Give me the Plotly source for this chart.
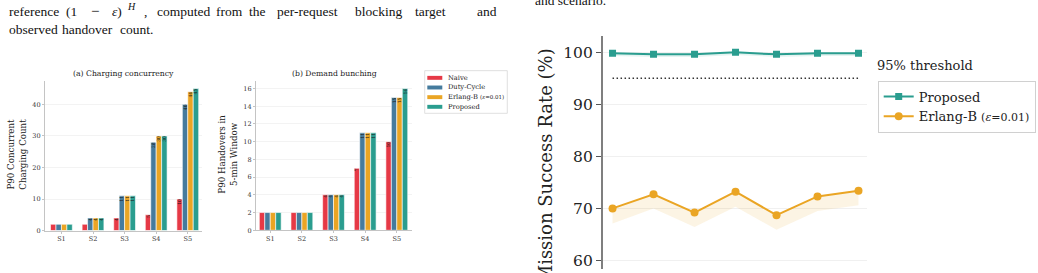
import plotly.graph_objects as go

W, H = 1038, 273

# ---------------- data ----------------
SCENARIOS = ["S1", "S2", "S3", "S4", "S5"]
METHODS = ["Naive", "Duty-Cycle", "Erlang-B", "Proposed"]
METHOD_LABELS = ["Naive", "Duty-Cycle",
                 "Erlang-B <span style='font-size:5.5px'>(<i>ε</i>=0.01)</span>", "Proposed"]
COLORS = ["#E63946", "#457B9D", "#EAA524", "#2A9D8F"]

CONC_NAIVE = [2, 2, 4, 5, 10]
CONC_DUTY = [2, 4, 11, 28, 40]
CONC_ERLANG = [2, 4, 11, 30, 44]
CONC_PROP = [2, 4, 11, 30, 45]

HAND_NAIVE = [2, 2, 4, 7, 10]
HAND_DUTY = [2, 2, 4, 11, 15]
HAND_ERLANG = [2, 2, 4, 11, 15]
HAND_PROP = [2, 2, 4, 11, 16]

RUNS = [0, 1, 2, 3, 4, 5, 6]
PROP_RATE = [99.8, 99.6, 99.6, 100.0, 99.6, 99.8, 99.8]
PROP_LOW = [99.3, 99.1, 99.1, 99.5, 99.1, 99.3, 99.3]
ERL_RATE = [70.0, 72.7, 69.2, 73.2, 68.7, 72.3, 73.4]
ERL_LOW = [67.1, 70.0, 66.4, 70.3, 65.9, 69.5, 70.6]
THRESHOLD = 95

SERIF = "DejaVu Serif"
TIMES = "Liberation Serif"


def px(x):
    return x / W


def py(y):
    return 1 - y / H


fig = go.Figure()

# ---------------- bar charts ----------------
conc = [CONC_NAIVE, CONC_DUTY, CONC_ERLANG, CONC_PROP]
hand = [HAND_NAIVE, HAND_DUTY, HAND_ERLANG, HAND_PROP]
for data, xa, ya in [(conc, "x", "y"), (hand, "x2", "y2")]:
    for name, vals, col in zip(METHODS, data, COLORS):
        fig.add_trace(go.Bar(
            x=SCENARIOS, y=vals, name=name, xaxis=xa, yaxis=ya,
            marker=dict(color=col, line=dict(color="white", width=0.6)),
            text=[str(v) if v >= 3 else " " for v in vals],
            textposition="inside", insidetextanchor="end", textangle=-90,
            constraintext="none",
            textfont=dict(size=4.5, color="#1a1a1a", family=SERIF),
            showlegend=False, offsetgroup=name, legendgroup=name,
        ))

# ---------------- line chart ----------------
fig.add_trace(go.Scatter(x=RUNS, y=ERL_LOW, xaxis="x3", yaxis="y3", mode="lines",
                         line=dict(width=0, color=COLORS[2]), showlegend=False, hoverinfo="skip"))
fig.add_trace(go.Scatter(x=RUNS, y=ERL_RATE, xaxis="x3", yaxis="y3", mode="lines",
                         line=dict(width=0, color=COLORS[2]), fill="tonexty",
                         fillcolor="rgba(234,165,36,0.12)", showlegend=False, hoverinfo="skip"))
fig.add_trace(go.Scatter(x=RUNS, y=PROP_LOW, xaxis="x3", yaxis="y3", mode="lines",
                         line=dict(width=0, color=COLORS[3]), showlegend=False, hoverinfo="skip"))
fig.add_trace(go.Scatter(x=RUNS, y=PROP_RATE, xaxis="x3", yaxis="y3", mode="lines",
                         line=dict(width=0, color=COLORS[3]), fill="tonexty",
                         fillcolor="rgba(42,157,143,0.12)", showlegend=False, hoverinfo="skip"))
fig.add_trace(go.Scatter(x=[RUNS[0], RUNS[-1]], y=[THRESHOLD, THRESHOLD], xaxis="x3", yaxis="y3",
                         mode="lines", line=dict(color="#333333", width=1.5, dash="1.5px,2.5px"),
                         showlegend=False, hoverinfo="skip"))
fig.add_trace(go.Scatter(x=RUNS, y=PROP_RATE, xaxis="x3", yaxis="y3", mode="lines+markers",
                         name="Proposed", legend="legend2",
                         line=dict(color=COLORS[3], width=2),
                         marker=dict(symbol="square", size=7, color=COLORS[3])))
fig.add_trace(go.Scatter(x=RUNS, y=ERL_RATE, xaxis="x3", yaxis="y3", mode="lines+markers",
                         name="Erlang-B <span style='font-size:11px'>(<i>ε</i>=0.01)</span>",
                         legend="legend2",
                         line=dict(color=COLORS[2], width=2),
                         marker=dict(symbol="circle", size=8, color=COLORS[2])))

# ---------------- axes ----------------
small_ax = dict(showline=True, linecolor="#c4c4c4", linewidth=1.2, ticks="outside",
                ticklen=2, tickwidth=0.8, tickcolor="#c4c4c4",
                tickfont=dict(family=SERIF, size=6.5, color="#333"), zeroline=False)
layout = dict(
    width=W, height=H, margin=dict(l=0, r=0, t=0, b=0),
    paper_bgcolor="white", plot_bgcolor="white",
    barmode="group", bargap=0.31, bargroupgap=0.0,
    xaxis=dict(domain=[px(45), px(202)], anchor="y", type="category",
               range=[-0.52, 4.45], showgrid=False, **small_ax),
    yaxis=dict(domain=[py(234), py(82.7)], anchor="x", range=[0, 47.25], dtick=10,
               showgrid=True, gridcolor="#f3f3f3", gridwidth=0.6, **small_ax),
    xaxis2=dict(domain=[px(256), px(412)], anchor="y2", type="category",
                range=[-0.45, 4.48], showgrid=False, **small_ax),
    yaxis2=dict(domain=[py(233.7), py(82.7)], anchor="x2", range=[0, 16.8], dtick=2,
                showgrid=True, gridcolor="#f3f3f3", gridwidth=0.6, **small_ax),
    xaxis3=dict(domain=[px(602.7), px(866.7)], anchor="y3", range=[-0.24, 6.2],
                showgrid=False, showline=False, showticklabels=False, ticks="",
                zeroline=False),
    yaxis3=dict(domain=[0, py(36.7)], anchor="x3", range=[58.35, 103.1], dtick=10,
                showgrid=True, gridcolor="#f0f0f0", gridwidth=1, zeroline=False,
                showline=True, linecolor="#7f7f7f", linewidth=1.6, ticks="outside",
                ticklen=5, tickwidth=1.2, tickcolor="#555",
                tickfont=dict(family=SERIF, size=15.5, color="#222")),
    legend2=dict(x=px(877.7), y=py(81.7), xanchor="left", yanchor="top",
                 bgcolor="white", bordercolor="#d0d0d0", borderwidth=1,
                 font=dict(family=SERIF, size=13, color="#222"), itemwidth=30,
                 tracegroupgap=0),
    showlegend=True,
)
fig.update_layout(**layout)

ann = []
shapes = []


def txt(t, x, y, size, angle=0, xanchor="center", yanchor="middle", family=SERIF, color="#222"):
    ann.append(dict(text=t, x=px(x), y=py(y), xref="paper", yref="paper",
                    xanchor=xanchor, yanchor=yanchor, showarrow=False, textangle=angle,
                    font=dict(family=family, size=size, color=color)))


# ---------------- page text ----------------
line1 = [("reference", 7), ("(1", 64), ("<i>ε</i>)", 109.5),
         ("computed", 155), ("from", 214), ("the", 247), ("per-request", 275),
         ("blocking", 353), ("target", 413), ("and", 475)]
line2 = [("observed", 7), ("handover", 60), ("count.", 118)]
for words, yc in [(line1, 11.5), (line2, 29.8)]:
    for w, x0 in words:
        txt(w, x0, yc, 13.5, xanchor="left", family=TIMES, color="#111")
txt("−", 94.5, 11.5, 15, family=TIMES, color="#111")
txt("<i>H</i>", 125, 6.5, 10, xanchor="left", family=TIMES, color="#111")
txt(",", 141.5, 11.5, 13.5, xanchor="left", family=TIMES, color="#111")
txt("and scenario.", 533, 0.5, 13.5, xanchor="left", family=TIMES, color="#111")

# ---------------- chart texts ----------------
txt("(a) Charging concurrency", 123, 75, 7.7)
txt("(b) Demand bunching", 334, 75, 7.7)
txt("P90 Concurrent<br>Charging Count", 17, 157, 8.7, angle=-90)
txt("P90 Handovers in<br>5-min Window", 228, 157, 8.7, angle=-90)
txt("Mission Success Rate (%)", 545, 47.5, 18, angle=-90, yanchor="top")
txt("95% threshold", 875, 66, 13, xanchor="left")

# custom legend for bar charts
shapes.append(dict(type="rect", xref="paper", yref="paper", x0=px(424.7), x1=px(507.3),
                   y0=py(115), y1=py(71.7), line=dict(color="#d8d8d8", width=0.8),
                   fillcolor="white", layer="above"))
for i, (lab, col) in enumerate(zip(METHOD_LABELS, COLORS)):
    yc = 79 + i * 9.8
    shapes.append(dict(type="rect", xref="paper", yref="paper", x0=px(427.3), x1=px(442.3),
                       y0=py(yc + 2), y1=py(yc - 2), line=dict(width=0), fillcolor=col,
                       layer="above"))
    txt(lab, 446, yc, 6.7, xanchor="left")

fig.update_layout(annotations=ann, shapes=shapes)
fig.write_html("out.html")
